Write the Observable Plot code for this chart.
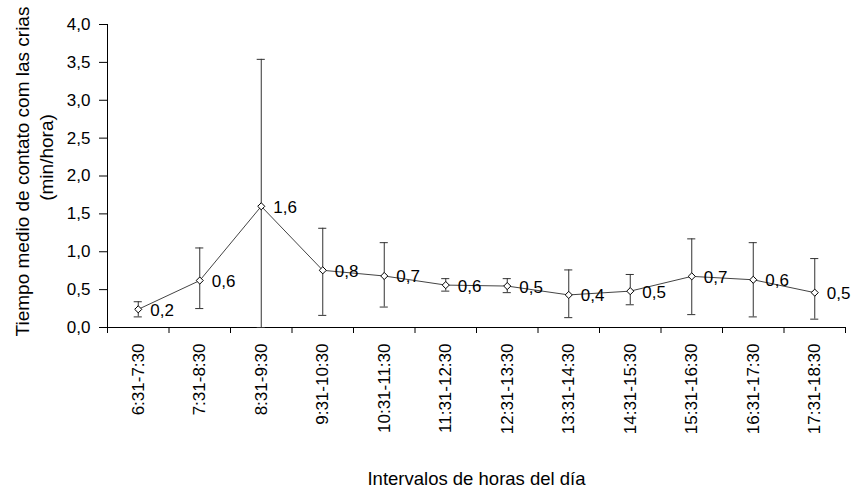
<!DOCTYPE html>
<html>
<head>
<meta charset="utf-8">
<script src="https://cdn.jsdelivr.net/npm/d3@7"></script>
<script src="https://cdn.jsdelivr.net/npm/@observablehq/plot@0.6"></script>
<style>
  html, body { margin: 0; padding: 0; background: #fff; }
  #chart svg { display: block; }
</style>
</head>
<body>
<div id="chart"></div>
<script>
const categories = ["6:31-7:30","7:31-8:30","8:31-9:30","9:31-10:30","10:31-11:30","11:31-12:30","12:31-13:30","13:31-14:30","14:31-15:30","15:31-16:30","16:31-17:30","17:31-18:30"];
const means  = [0.24, 0.62, 1.60, 0.755, 0.68, 0.56, 0.547, 0.43, 0.48, 0.675, 0.63, 0.46];
const lower  = [0.14, 0.25, 0.00, 0.16, 0.27, 0.48, 0.46, 0.13, 0.30, 0.17, 0.14, 0.11];
const upper  = [0.34, 1.05, 3.54, 1.31, 1.12, 0.645, 0.645, 0.76, 0.70, 1.17, 1.12, 0.91];
const labels = ["0,2","0,6","1,6","0,8","0,7","0,6","0,5","0,4","0,5","0,7","0,6","0,5"];
const yTicks = [0, 0.5, 1, 1.5, 2, 2.5, 3, 3.5, 4];
const yTitle1 = "Tiempo medio de contato com las crias";
const yTitle2 = "(min/hora)";
const xTitle = "Intervalos de horas del día";

const data = categories.map((c, i) => ({c, i, pos: i + 0.5, mean: means[i], lo: lower[i], hi: upper[i], label: labels[i]}));
const capHalf = 0.066;
const comma = v => d3.format(".1f")(v).replace(".", ",");

const chart = Plot.plot({
  width: 855,
  height: 490,
  marginLeft: 107,
  marginRight: 10,
  marginTop: 24,
  marginBottom: 163,
  style: {fontFamily: "'Liberation Sans', Arial, sans-serif", color: "#000", background: "#fff"},
  x: {type: "linear", domain: [0, categories.length], axis: null},
  y: {domain: [0, 4], axis: null},
  marks: [
    Plot.ruleX([0], {y1: 0, y2: 4, stroke: "#000"}),
    Plot.ruleY([0], {stroke: "#000"}),
    Plot.axisY({ticks: yTicks, tickFormat: comma, tickSize: 8, tickPadding: 9, fontSize: 17, label: null, stroke: "#000"}),
    Plot.axisX({ticks: d3.range(0, categories.length + 1), tickSize: 6, tickFormat: () => "", label: null, stroke: "#000"}),
    Plot.axisX({ticks: data.map(d => d.pos), tickSize: 0, tickPadding: 16, tickRotate: -90, tickFormat: v => categories[Math.round(v - 0.5)], fontSize: 17, label: null}),
    Plot.ruleX(data, {x: "pos", y1: "lo", y2: "hi", stroke: "#333", strokeWidth: 1}),
    Plot.ruleY(data, {y: "hi", x1: d => d.pos - capHalf, x2: d => d.pos + capHalf, stroke: "#333"}),
    Plot.ruleY(data, {y: "lo", x1: d => d.pos - capHalf, x2: d => d.pos + capHalf, stroke: "#333"}),
    Plot.line(data, {x: "pos", y: "mean", stroke: "#444", strokeWidth: 1}),
    Plot.dot(data, {x: "pos", y: "mean", symbol: "diamond2", r: 3.2, stroke: "#000", fill: "#fff", strokeWidth: 1}),
    Plot.text(data, {x: "pos", y: "mean", text: "label", dx: 12, dy: 1, textAnchor: "start", fontSize: 17, fill: "#000"}),
    Plot.text([yTitle1], {frameAnchor: "left", textAnchor: "middle", lineAnchor: "middle", dx: -85, dy: -4.5, rotate: -90, fontSize: 19, fill: "#000"}),
    Plot.text([yTitle2], {frameAnchor: "left", textAnchor: "middle", lineAnchor: "middle", dx: -61, dy: -18.5, rotate: -90, fontSize: 19, fill: "#000"}),
    Plot.text([xTitle], {frameAnchor: "bottom", textAnchor: "middle", lineAnchor: "middle", dy: 152, fontSize: 18.5, fill: "#000"})
  ]
});
document.getElementById("chart").appendChild(chart);
</script>
</body>
</html>
